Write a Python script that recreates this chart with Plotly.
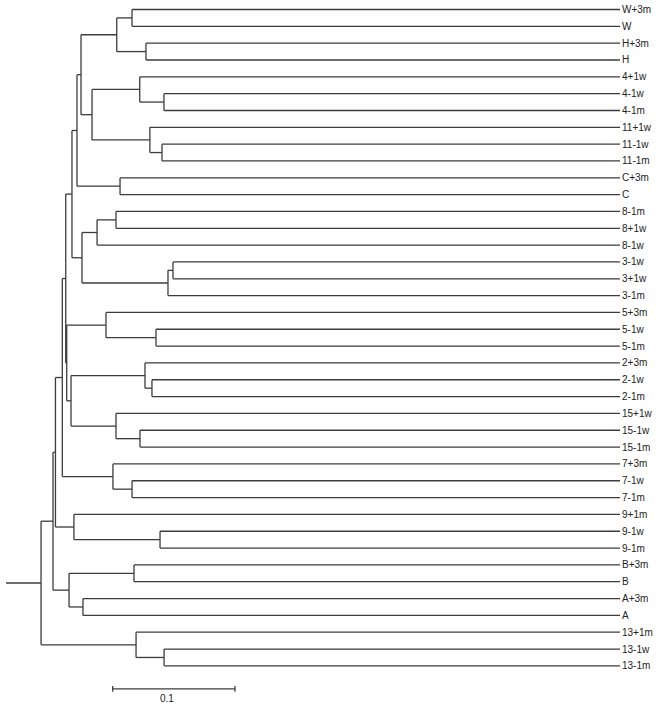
import plotly.graph_objects as go

# Leaf labels in display order (top to bottom)
leaf_labels = ["W+3m", "W", "H+3m", "H", "4+1w", "4-1w", "4-1m", "11+1w", "11-1w", "11-1m",
               "C+3m", "C", "8-1m", "8+1w", "8-1w", "3-1w", "3+1w", "3-1m", "5+3m", "5-1w",
               "5-1m", "2+3m", "2-1w", "2-1m", "15+1w", "15-1w", "15-1m", "7+3m", "7-1w", "7-1m",
               "9+1m", "9-1w", "9-1m", "B+3m", "B", "A+3m", "A", "13+1m", "13-1w", "13-1m"]

# Merge list (scipy-like linkage): leaves are 0..39, merge k creates node 40+k
merge_left = [0, 2, 40, 5, 4, 8, 7, 44, 42, 10,
              48, 12, 51, 15, 53, 52, 50, 19, 18, 22,
              21, 25, 24, 60, 58, 56, 28, 27, 65, 31,
              30, 68, 33, 35, 72, 71, 38, 37, 75]
merge_right = [1, 3, 41, 6, 43, 9, 45, 46, 47, 11,
               49, 13, 14, 16, 17, 54, 55, 20, 57, 23,
               59, 26, 61, 62, 63, 64, 29, 66, 67, 32,
               69, 70, 34, 36, 73, 74, 39, 76, 77]
# Height of each merge (distance from the tips)
merge_height = [0.3990, 0.3876, 0.4115, 0.3729, 0.3927, 0.3745, 0.3844, 0.4317, 0.4407, 0.4088,
                0.4440, 0.4121, 0.4276, 0.3655, 0.3696, 0.4399, 0.4481, 0.3794, 0.4203, 0.3827,
                0.3884, 0.3925, 0.4121, 0.4489, 0.4524, 0.4532, 0.3990, 0.4146, 0.4560, 0.3761,
                0.4465, 0.4616, 0.3974, 0.4391, 0.4505, 0.4636, 0.3728, 0.3957, 0.4734]

root_stub = 0.0286
scale_len = 0.1
scale_start = 0.4148

n_leaves = len(leaf_labels)
node_y = {i: float(i) for i in range(n_leaves)}
node_h = {i: 0.0 for i in range(n_leaves)}

xs, ys = [], []
for k, (a, b, h) in enumerate(zip(merge_left, merge_right, merge_height)):
    nid = n_leaves + k
    for c in (a, b):
        xs += [node_h[c], h, None]
        ys += [node_y[c], node_y[c], None]
    xs += [h, h, None]
    ys += [node_y[a], node_y[b], None]
    node_y[nid] = (node_y[a] + node_y[b]) / 2
    node_h[nid] = h

root = n_leaves + len(merge_height) - 1
xs += [node_h[root], node_h[root] + root_stub, None]
ys += [node_y[root], node_y[root], None]

line_color = "#3c3c3c"
fig = go.Figure()
fig.add_trace(go.Scatter(x=xs, y=ys, mode="lines",
                         line=dict(color=line_color, width=1.3),
                         hoverinfo="skip", showlegend=False))

# scale bar
sb_y = 40.37
fig.add_trace(go.Scatter(
    x=[scale_start, scale_start - scale_len, None, scale_start, scale_start, None,
       scale_start - scale_len, scale_start - scale_len],
    y=[sb_y, sb_y, None, sb_y - 0.17, sb_y + 0.17, None, sb_y - 0.17, sb_y + 0.17],
    mode="lines", line=dict(color=line_color, width=1.3),
    hoverinfo="skip", showlegend=False))

annotations = []
for i, lab in enumerate(leaf_labels):
    annotations.append(dict(x=-0.0003, y=i, text=lab, xanchor="left", yanchor="middle",
                            showarrow=False, xref="x", yref="y",
                            font=dict(family="Liberation Sans, Arial", size=10, color="#222222")))
annotations.append(dict(x=scale_start - scale_len / 2 + 0.0055, y=40.92, text=str(scale_len),
                        xanchor="center", yanchor="middle", showarrow=False, xref="x", yref="y",
                        font=dict(family="Liberation Sans, Arial", size=10, color="#222222")))

px_per_unit = 1223.0
tip_px = 620.0
fig.update_layout(
    width=664, height=707,
    margin=dict(l=0, r=0, t=0, b=0),
    paper_bgcolor="white", plot_bgcolor="white",
    xaxis=dict(range=[tip_px / px_per_unit, (tip_px - 664) / px_per_unit],
               visible=False, showgrid=False, zeroline=False),
    yaxis=dict(range=[(707 - 9.5) / 16.83, -9.5 / 16.83],
               visible=False, showgrid=False, zeroline=False),
    annotations=annotations,
)

fig.write_html("out.html", config={"displayModeBar": False},
               post_script="document.body.style.margin='0';document.body.style.padding='0';")
